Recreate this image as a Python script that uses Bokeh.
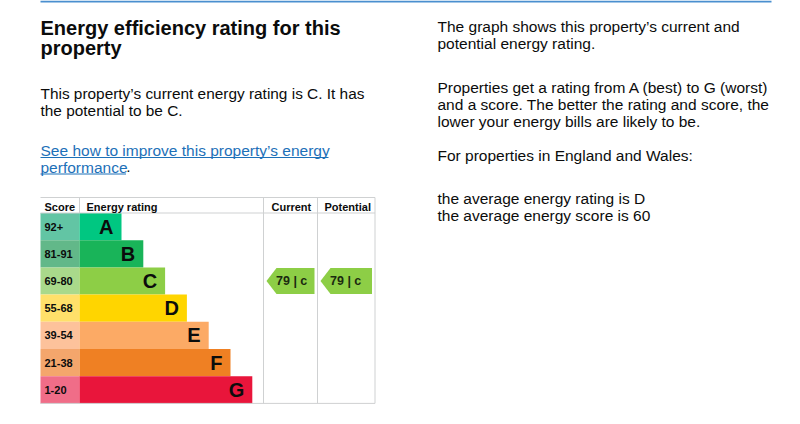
from bokeh.plotting import figure
from bokeh.models import Range1d
from bokeh.core.properties import value
from bokeh.embed import file_html
from bokeh.resources import INLINE

# ---------------- data ----------------
ratings = ["A", "B", "C", "D", "E", "F", "G"]
score_labels = ["92+", "81-91", "69-80", "55-68", "39-54", "21-38", "1-20"]
band_colors = ["#00c781", "#19b459", "#8dce46", "#ffd500", "#fcaa65", "#ef8023", "#e9153b"]
score_colors = ["#62c5a4", "#62b889", "#a9d98b", "#ffe06a", "#fdc29b", "#f4a66c", "#f06d88"]
header_labels = ["Score", "Energy rating", "Current", "Potential"]
current_score = 79
current_rating = "C"
potential_score = 79
potential_rating = "C"

title_lines = ["Energy efficiency rating for this", "property"]
intro_lines = ["This property\u2019s current energy rating is C. It has", "the potential to be C."]
link_lines = ["See how to improve this property\u2019s energy", "performance"]
right_lines = [
    "The graph shows this property\u2019s current and",
    "potential energy rating.",
    "Properties get a rating from A (best) to G (worst)",
    "and a score. The better the rating and score, the",
    "lower your energy bills are likely to be.",
    "For properties in England and Wales:",
    "the average energy rating is D",
    "the average energy score is 60",
]

# ---------------- layout ----------------
FONT = value("Liberation Sans")
INK = "#0b0c0c"
LINK = "#1d70b8"
GRID = "#cfd1d2"

TL, SR, CL, PL, TR = 40, 79, 263, 317, 374.5
HT, HB = 197, 212.5
RH = 27.2
BAND0, BSTEP = 121, 21.8

p = figure(width=784, height=408, x_range=Range1d(0, 784), y_range=Range1d(408, 0),
           output_backend="svg", toolbar_location=None, min_border=0)
p.axis.visible = False
p.grid.visible = False
p.outline_line_color = None
p.background_fill_color = "white"
p.border_fill_color = "white"

# top rule
p.quad(left=[40], right=[771], top=[0], bottom=[2], fill_color="#4a8fcf", line_color=None)

n = len(ratings)
tops = [HB + i * RH for i in range(n)]
bots = [HB + (i + 1) * RH for i in range(n)]
rights = [BAND0 + i * BSTEP for i in range(n)]
mids = [(t + b) / 2 for t, b in zip(tops, bots)]

# score cells and bands
p.quad(left=[TL] * n, right=[SR] * n, top=tops, bottom=bots, fill_color=score_colors, line_color=None)
p.quad(left=[SR] * n, right=rights, top=tops, bottom=bots, fill_color=band_colors, line_color=None)

# table lines
TB = bots[-1]
p.segment(x0=[TL, TL, TL], y0=[HT, HB, TB], x1=[TR, TR, TR], y1=[HT, HB, TB], line_color=GRID, line_width=1)
p.segment(x0=[SR, CL, PL, TR], y0=[HT, HT, HT, HT], x1=[SR, CL, PL, TR], y1=[HB, TB, TB, TB],
          line_color=GRID, line_width=1)

# header
p.text(x=[44, 86, 271, 324], y=[206.4] * 4, text=header_labels, text_font=FONT, text_font_size="11px",
       text_font_style="bold", text_color=INK, text_baseline="middle")
# score labels
p.text(x=[44] * n, y=mids, text=score_labels, text_font=FONT, text_font_size="11px",
       text_font_style="bold", text_color=INK, text_baseline="middle")
# band letters
p.text(x=[r - 8 for r in rights], y=mids, text=ratings, text_font=FONT,
       text_font_size="20px", text_font_style="bold", text_color=INK, text_align="right",
       text_baseline="middle")

# arrows
def arrow(col_l, col_r, rating, score):
    i = ratings.index(rating)
    t, b = tops[i] + 0.5, bots[i] - 0.5
    xs = [col_l + 3, col_l + 13, col_r - 3, col_r - 3, col_l + 13]
    ys = [(t + b) / 2, t, t, b, b]
    p.patch(xs, ys, fill_color=band_colors[i], line_color=None)
    p.text(x=[col_l + 12.5], y=[(t + b) / 2], text=[f"{score} | {rating.lower()}"], text_font=FONT,
           text_font_size="12.5px", text_font_style="bold", text_color="#1b2a10", text_baseline="middle")

arrow(CL, PL, current_rating, current_score)
arrow(PL, TR, potential_rating, potential_score)

# left texts
p.text(x=[40, 40], y=[27.3, 47.8], text=title_lines, text_font=FONT, text_font_size="20px",
       text_font_style="bold", text_color=INK, text_baseline="middle")
p.text(x=[40, 40], y=[92.8, 109.8], text=intro_lines, text_font=FONT, text_font_size="15.4px",
       text_color=INK, text_baseline="middle")
p.text(x=[40, 40], y=[149.8, 166.5], text=link_lines, text_font=FONT, text_font_size="15.5px",
       text_color=LINK, text_baseline="middle")
p.segment(x0=[40, 40], y0=[157, 173.5], x1=[328, 125.5], y1=[157, 173.5], line_color=LINK, line_width=1)
p.text(x=[125.8], y=[166.5], text=["."], text_font=FONT, text_font_size="15.5px",
       text_color=INK, text_baseline="middle")

# right texts
right_y = [26.2, 43.2, 87.2, 104.2, 121.2, 154.8, 198.2, 215.2]
p.text(x=[437] * len(right_lines), y=right_y, text=right_lines, text_font=FONT, text_font_size="15.5px",
       text_color=INK, text_baseline="middle")

open("out.html", "w").write(file_html(p, INLINE))
